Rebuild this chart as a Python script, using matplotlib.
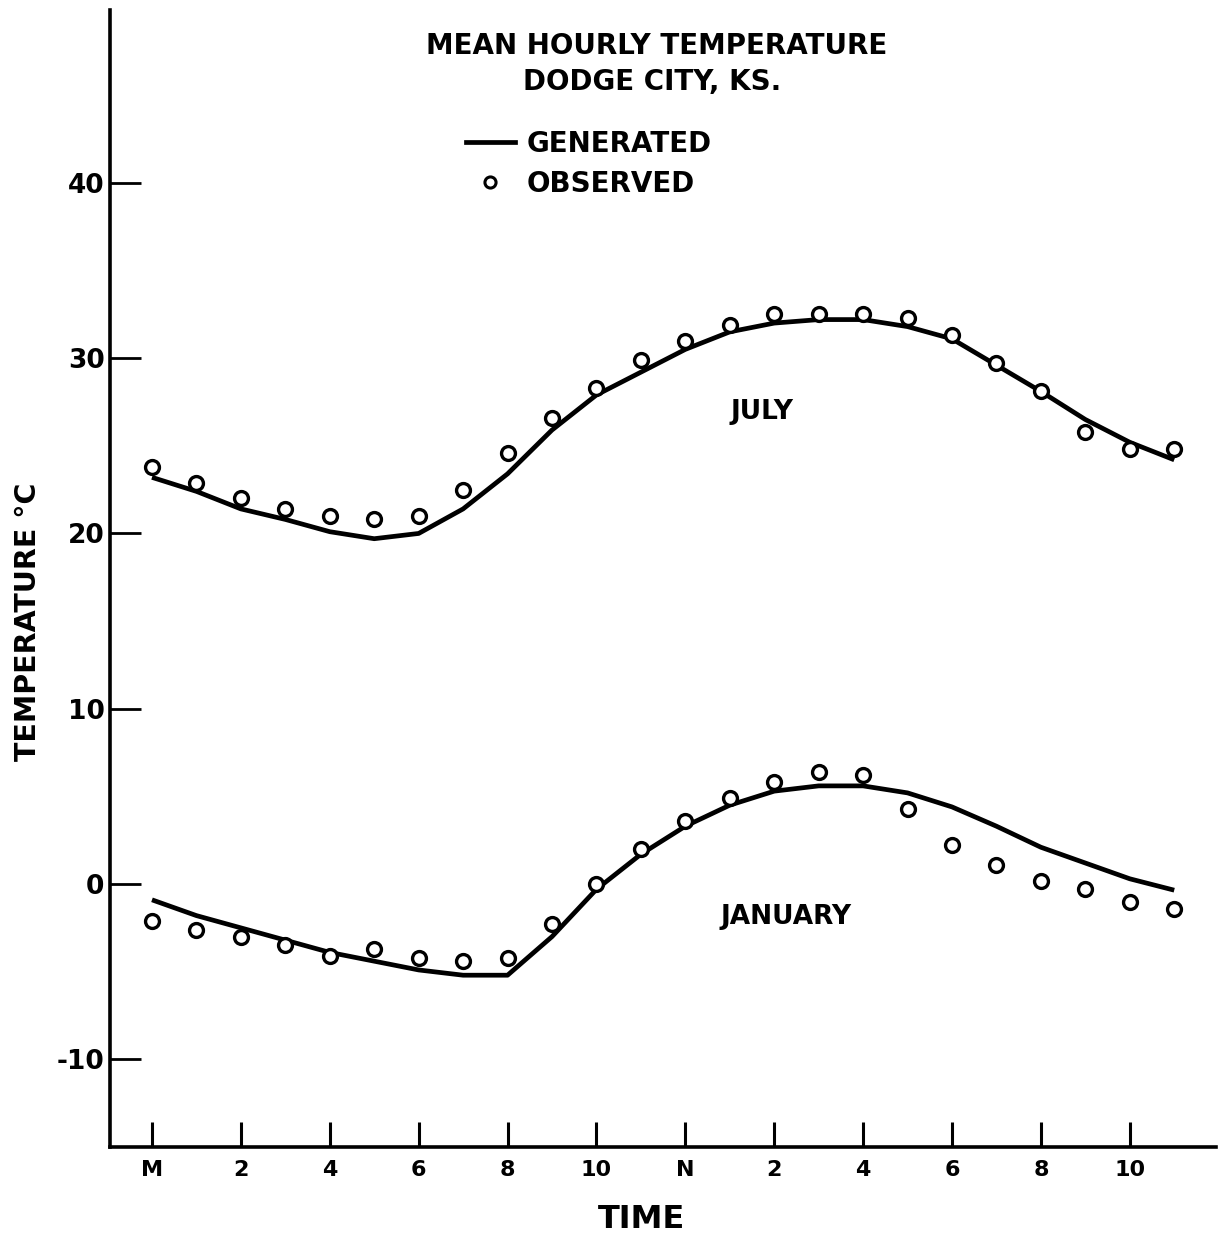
'''
Mean hourly temperature, Dodge City KS: generated curve vs observed hourly means
'''
import matplotlib
matplotlib.use("Agg")
import matplotlib.pyplot as plt
from matplotlib.lines import Line2D

# hours after midnight
hours = list(range(24))

# observed hourly means (deg C)
july_obs = [23.8, 22.9, 22.0, 21.4, 21.0, 20.8, 21.0, 22.5, 24.6, 26.6, 28.3, 29.9,
            31.0, 31.9, 32.5, 32.5, 32.5, 32.3, 31.3, 29.7, 28.1, 25.8, 24.8, 24.8]
jan_obs = [-2.1, -2.6, -3.0, -3.5, -4.1, -3.7, -4.2, -4.4, -4.2, -2.3, 0.0, 2.0,
           3.6, 4.9, 5.8, 6.4, 6.2, 4.3, 2.2, 1.1, 0.2, -0.3, -1.0, -1.4]

# generated curves
july_gen = [23.2, 22.4, 21.4, 20.8, 20.1, 19.7, 20.0, 21.4, 23.4, 25.9, 27.9, 29.2,
            30.5, 31.5, 32.0, 32.2, 32.2, 31.8, 31.1, 29.6, 28.1, 26.5, 25.2, 24.2]
jan_gen = [-0.9, -1.8, -2.5, -3.2, -3.9, -4.4, -4.9, -5.2, -5.2, -3.0, -0.3, 1.7,
           3.3, 4.5, 5.3, 5.6, 5.6, 5.2, 4.4, 3.3, 2.1, 1.2, 0.3, -0.35]

xtick_pos = [0, 2, 4, 6, 8, 10, 12, 14, 16, 18, 20, 22]
xtick_labels = ["M", "2", "4", "6", "8", "10", "N", "2", "4", "6", "8", "10"]
ytick_pos = [-10, 0, 10, 20, 30, 40]

W, H = 1231, 1239
fig = plt.figure(figsize=(W / 100, H / 100), dpi=100)
ax = fig.add_axes([110 / W, 1 - 1147 / H, (1216 - 110) / W, (1147 - 10) / H])

lw = 3.4
ax.plot(hours, july_gen, color="black", lw=lw, solid_capstyle="butt", solid_joinstyle="round")
ax.plot(hours, jan_gen, color="black", lw=lw, solid_capstyle="butt", solid_joinstyle="round")
ax.plot(hours, july_obs, "o", ms=10, mfc="white", mec="black", mew=2.4)
ax.plot(hours, jan_obs, "o", ms=10, mfc="white", mec="black", mew=2.4)

ax.set_xlim(-0.945, 23.94)
ax.set_ylim(-15.0, 49.86)

for s in ["top", "right"]:
    ax.spines[s].set_visible(False)
for s in ["left", "bottom"]:
    ax.spines[s].set_linewidth(2.6)

ax.set_xticks(xtick_pos)
ax.set_xticklabels(xtick_labels, fontsize=16, fontweight="bold")
ax.set_yticks(ytick_pos)
ax.set_yticklabels([str(v) for v in ytick_pos], fontsize=19, fontweight="bold")
ax.tick_params(axis="x", direction="in", length=18, width=2.2, pad=9)
ax.tick_params(axis="y", direction="in", length=22, width=2.0, pad=4)

ax.text(13.72, 26.9, "JULY", fontsize=19, fontweight="bold", ha="center", va="center")
ax.text(14.26, -1.9, "JANUARY", fontsize=19, fontweight="bold", ha="center", va="center")

fig.text(657 / W, 1 - 46 / H, "MEAN HOURLY TEMPERATURE", fontsize=20,
         fontweight="bold", ha="center", va="center")
fig.text(652 / W, 1 - 82 / H, "DODGE CITY, KS.", fontsize=20,
         fontweight="bold", ha="center", va="center")
fig.text(642 / W, 1 - 1220 / H, "TIME", fontsize=23, fontweight="bold",
         ha="center", va="center")
fig.text(28 / W, 1 - 622 / H, "TEMPERATURE °C", fontsize=20.5, fontweight="bold",
         ha="center", va="center", rotation=90)

handles = [Line2D([], [], color="black", lw=lw),
           Line2D([], [], ls="none", marker="o", ms=8, mfc="white", mec="black", mew=2.2)]
ax.legend(handles, ["GENERATED", "OBSERVED"], loc="upper left",
          bbox_to_anchor=(466 / W, 1 - 130 / H), bbox_transform=fig.transFigure,
          frameon=False, prop={"size": 20, "weight": "bold"},
          handlelength=1.76, handletextpad=0.43, labelspacing=0.44,
          borderpad=0, borderaxespad=0)

fig.savefig("out.png", dpi=100)
